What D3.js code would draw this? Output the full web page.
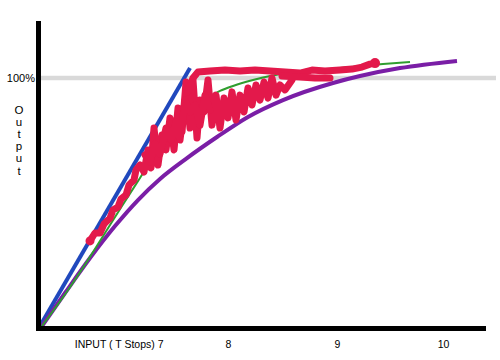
<!DOCTYPE html>
<html><head><meta charset="utf-8">
<script src="https://cdn.jsdelivr.net/npm/d3@7"></script>
<style>html,body{margin:0;padding:0;background:#fff;}svg{display:block;}</style>
</head><body>
<svg id="c" width="500" height="360"></svg>
<script>
// ---- data (x in input units, y in % output) ----
const xTicks = [24, 37.6, 59.4, 80.6];
const xTickLabels = ["INPUT ( T Stops) 7", "8", "9", "10"];
const yLabel = "Output";
const refLevel = 100;
const refLabel = "100%";

const blueLine = [[0,0],[30,104.0]];
const purpleCurve = [[0.4,0],[5,13.3],[10,27.4],[15,40.3],[19.6,50.8],[24,59.3],[29.4,67.7],[35.4,76.2],[41.6,84.3],[48.6,91.1],[58.6,98.0],[64,100.8],[72,104.0],[83.4,106.9]];
const greenCurve = [[0.4,0],[5.6,14.5],[9.6,26.6],[13,37.5],[16.4,48.4],[20,59.7],[23,69.4],[25,75.4],[27.4,81.5],[30,86.7],[33.4,91.9],[36,94.8],[38.6,96.8],[42.6,99.2],[46,100.8],[52,102.4],[60,104.0],[68.6,105.6],[74,106.5]];
const redScribble = [[10,34.3],[11,37.5],[12,37.5],[12.8,41.1],[14,43.5],[14.6,46.8],[15.6,48.0],[16.2,51.2],[17.2,52.8],[17.8,56.9],[18.8,58.9],[19.2,62.9],[20,64.9],
  [20.8,62.1],[21.6,71.0],[22.2,63.7],[22.8,79.8],[23.6,64.9],[24.4,77.0],[25.2,71.0],[26,83.9],[26.8,71.0],[27.6,87.9],[28.4,78.2],[29.2,98.4],[30,79.8],[30.6,99.2],[31.4,75.8],[32,91.1],[32.8,86.3],[33.6,99.2],[34.4,81.0],[35.2,93.1],[36,79.8],[36.8,91.9],[37.6,83.9],[38.4,94.4],[39.2,83.1],[40,93.1],[40.8,86.3],[41.6,96.0],[42.4,89.1],[43.2,97.2],[44,91.1],[44.8,98.4],[45.6,91.9],[46.4,100],[47.2,93.1],[48,97.2],[49,95.2],[50.4,99.2]];
const redBack = [[34,87.1],[33,93.1],[32,81.0],[31,89.1],[30,86.3],[29,91.1],[28,75.0],[27.2,82.3],[26.2,75.0],[25.2,79.8],[24,69.4],[23,73.4],[22,66.1],[21,69.0]];
const redTop = [[29.6,94.4],[30.6,100],[31.6,102.4],[34,102.8],[37,103.2],[40,102.8],[43,103.2],[46,102.8],[49,102.4],[52,102.0],[54.4,103.2],[57,102.8],[60,103.2],[62.4,103.6],[64.4,104.4],[66,105.6],[67.2,106.0]];
const redUnder = [[48.4,100.8],[52,100.4],[55,100],[58,100]];

// ---- scales ----
const svg = d3.select("#c");
const x = d3.scaleLinear().domain([0,90]).range([40,490]);
const y = d3.scaleLinear().domain([0,100]).range([326,78]);
const font = "'Liberation Sans',Arial,sans-serif";

// reference 100% line
svg.append("line").attr("x1", x(0.2)).attr("x2", x(91.2)).attr("y1", y(refLevel)).attr("y2", y(refLevel))
  .attr("stroke","#d9d9d9").attr("stroke-width",4.5);
svg.append("text").attr("x", x(0)-5).attr("y", y(refLevel)+3.5).attr("text-anchor","end")
  .attr("font-family",font).attr("fill","#000").attr("font-size","11px").text(refLabel);

// y label letters
yLabel.split("").forEach((ch,i)=>{
  svg.append("text").attr("x",19).attr("y",114+i*12.1).attr("text-anchor","middle")
    .attr("font-family",font).attr("fill","#000").attr("font-size","11.5px").text(ch);
});

const line = d3.line().x(d=>x(d[0])).y(d=>y(d[1]));
const smooth = d3.line().x(d=>x(d[0])).y(d=>y(d[1])).curve(d3.curveMonotoneX);

// blue
svg.append("path").attr("d", line(blueLine)).attr("fill","none").attr("stroke","#2048bd").attr("stroke-width",4);
// purple
svg.append("path").attr("d", smooth(purpleCurve)).attr("fill","none").attr("stroke","#7a1ea6").attr("stroke-width",4);
// green
svg.append("path").attr("d", smooth(greenCurve)).attr("fill","none").attr("stroke","#2f9e2f").attr("stroke-width",2);
// red scribble
const redCol = "#e3194b";
[redScribble, redBack, redTop, redUnder].forEach(s=>{
  svg.append("path").attr("d", line(s)).attr("fill","none").attr("stroke",redCol)
    .attr("stroke-width",7).attr("stroke-linejoin","round").attr("stroke-linecap","round");
});
svg.append("circle").attr("cx", x(redTop[redTop.length-1][0])-1).attr("cy", y(redTop[redTop.length-1][1]))
  .attr("r",5).attr("fill",redCol);
svg.append("circle").attr("cx", x(redScribble[0][0])).attr("cy", y(redScribble[0][1]))
  .attr("r",4.5).attr("fill",redCol);

// axes
svg.append("line").attr("x1", x(0)-1.5).attr("x2", x(0)-1.5).attr("y1", y(123)).attr("y2", y(0)+5)
  .attr("stroke","#000").attr("stroke-width",5);
svg.append("line").attr("x1", x(0)-4).attr("x2", x(89.2)).attr("y1", y(0)+2.5).attr("y2", y(0)+2.5)
  .attr("stroke","#000").attr("stroke-width",5);

const xAxis = d3.axisBottom(x).tickValues(xTicks).tickSize(0).tickFormat((d,i)=>xTickLabels[i]);
const gx = svg.append("g").attr("transform", `translate(0,${y(0)+12})`).call(xAxis);
gx.select(".domain").remove();
gx.selectAll("text").attr("font-size","10.5px").attr("font-family",font)
  .attr("fill","#000").attr("dy","0.71em")
  .attr("text-anchor",(d,i)=> i===0 ? "end" : "middle")
  .attr("dx",(d,i)=> i===0 ? "3" : "0");
</script>
</body></html>
